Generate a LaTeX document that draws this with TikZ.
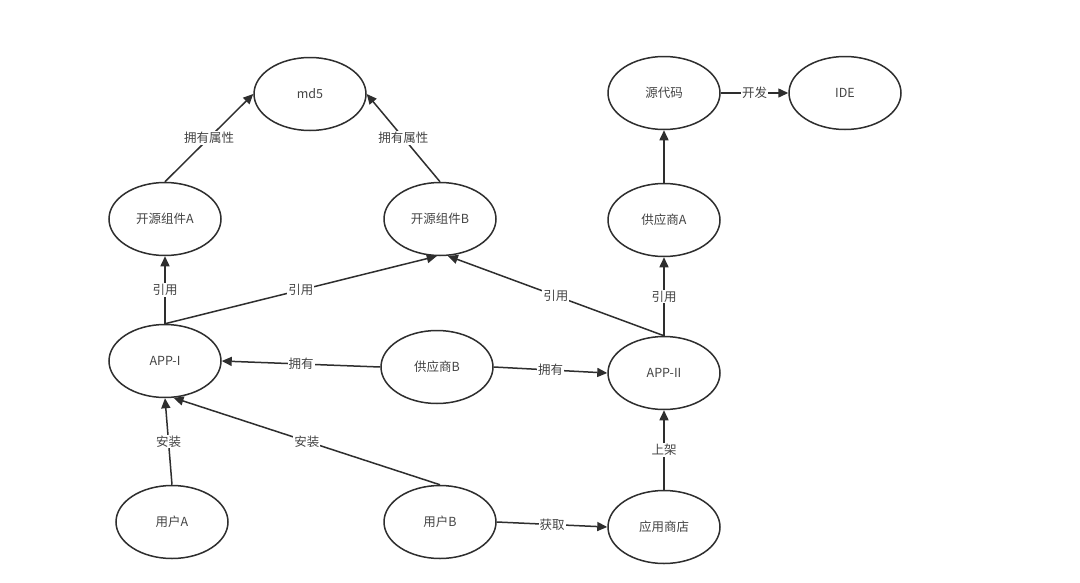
\documentclass[tikz,border=0pt]{standalone}
\usepackage{fontspec}
\setmainfont{Noto Sans CJK SC}
\usetikzlibrary{shapes.geometric,arrows.meta}
\definecolor{linec}{HTML}{2E2E2E}
\definecolor{textc}{HTML}{444444}
\tikzset{
  ent/.style={ellipse,draw=linec,line width=1.5pt,minimum width=112pt,minimum height=73pt,inner sep=0pt,
    font=\fontsize{12.5}{14}\selectfont,text=textc},
  conn/.style={draw=linec,line width=1.5pt,-{Triangle[length=10pt,width=9pt]}},
  lbl/.style={fill=white,inner sep=1pt,font=\fontsize{12.5}{14}\selectfont,text=textc}
}
\begin{document}
\begin{tikzpicture}[x=1pt,y=-1pt]
\useasboundingbox[fill=white] (0,0) rectangle (1080,582);
\node[ent] (md5) at (310,94) {md5};
\node[ent] (osa) at (165,219) {开源组件A};
\node[ent] (osb) at (440,219) {开源组件B};
\node[ent] (src) at (664,93) {源代码};
\node[ent] (ide) at (845,93) {IDE};
\node[ent] (spa) at (664,220) {供应商A};
\node[ent] (app1) at (165,361) {APP-I};
\node[ent] (spb) at (437,367) {供应商B};
\node[ent] (app2) at (664,373) {APP-II};
\node[ent] (usa) at (172,522) {用户A};
\node[ent] (usb) at (440,522) {用户B};
\node[ent] (store) at (664,527) {应用商店};

\draw[conn] (osa.north) -- node[lbl]{拥有属性} (md5.west);
\draw[conn] (osb.north) -- node[lbl]{拥有属性} (md5.east);
\draw[conn] (src.east) -- node[lbl]{开发} (ide.west);
\draw[conn] (spa.north) -- (src.south);
\draw[conn] (app2.north) -- node[lbl]{引用} (spa.south);
\draw[conn] (app2.north) -- node[lbl]{引用} (osb.282);
\draw[conn] (app1.north) -- node[lbl]{引用} (osb.265);
\draw[conn] (app1.north) -- node[lbl]{引用} (osa.south);
\draw[conn] (spb.west) -- node[lbl]{拥有} (app1.east);
\draw[conn] (spb.east) -- node[lbl]{拥有} (app2.west);
\draw[conn] (usa.north) -- node[lbl]{安装} (app1.south);
\draw[conn] (usb.north) -- node[lbl]{安装} (app1.283);
\draw[conn] (usb.east) -- node[lbl]{获取} (store.west);
\draw[conn] (store.north) -- node[lbl]{上架} (app2.south);
\end{tikzpicture}
\end{document}
